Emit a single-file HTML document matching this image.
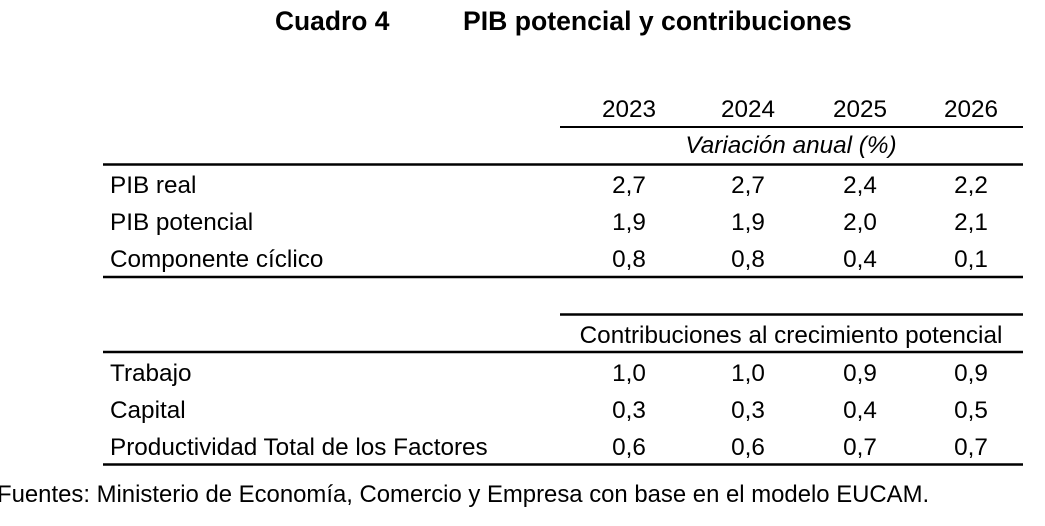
<!DOCTYPE html>
<html><head><meta charset="utf-8"><style>
html,body{margin:0;padding:0;background:#fff;}
svg{display:block;font-family:"Liberation Sans",Arial,sans-serif;}
</style></head><body>
<svg id="t" width="1045" height="526" viewBox="0 0 1045 526">
<text x="275" y="30" font-size="26.4" font-weight="bold">Cuadro 4</text>
<text x="463" y="30" font-size="26.6" font-weight="bold">PIB potencial y contribuciones</text>
<g id="rules" stroke="#000"></g>
<g id="body" font-size="24.3" fill="#000"></g>
<text x="-3" y="502" font-size="23.9">Fuentes: Ministerio de Economía, Comercio y Empresa con base en el modelo EUCAM.</text>
</svg>
<script>
const years = ["2023","2024","2025","2026"];
const labels1 = ["PIB real","PIB potencial","Componente cíclico"];
const values1 = [["2,7","2,7","2,4","2,2"],["1,9","1,9","2,0","2,1"],["0,8","0,8","0,4","0,1"]];
const labels2 = ["Trabajo","Capital","Productividad Total de los Factores"];
const values2 = [["1,0","1,0","0,9","0,9"],["0,3","0,3","0,4","0,5"],["0,6","0,6","0,7","0,7"]];

const NS="http://www.w3.org/2000/svg";
const colX=[629,748,860,971];
const body=document.getElementById('body');
const rules=document.getElementById('rules');
function txt(x,y,s,anchor,name,italic){
  const t=document.createElementNS(NS,'text');
  t.setAttribute('x',x);t.setAttribute('y',y);
  if(anchor)t.setAttribute('text-anchor',anchor);
  if(italic)t.setAttribute('font-style','italic');
  t.textContent=s;
  
  
  body.appendChild(t);return t;
}
function line(x1,x2,y,w){
  const l=document.createElementNS(NS,'line');
  l.setAttribute('x1',x1);l.setAttribute('x2',x2);l.setAttribute('y1',y);l.setAttribute('y2',y);
  l.setAttribute('stroke-width',w);
  
  
  rules.appendChild(l);
}
years.forEach((y,i)=>txt(colX[i],117,y,'middle','year-header'));
line(560,1023,127,2);
txt(791,153,"Variación anual (%)",'middle','section-header-variacion',true);
line(103,1023,164.5,2.5);
const base1=[193,230,267];
labels1.forEach((l,r)=>{
  txt(110,base1[r],l,null,'row-label');
  values1[r].forEach((v,c)=>txt(colX[c],base1[r],v,'middle','cell-value'));
});
line(103,1023,277,2.5);
line(560,1023,314.5,2.5);
txt(791,343,"Contribuciones al crecimiento potencial",'middle','section-header-contribuciones');
line(103,1023,352,2.5);
const base2=[381,418,455];
labels2.forEach((l,r)=>{
  txt(110,base2[r],l,null,'row-label');
  values2[r].forEach((v,c)=>txt(colX[c],base2[r],v,'middle','cell-value'));
});
line(103,1023,464.5,2.5);
</script>
</body></html>
